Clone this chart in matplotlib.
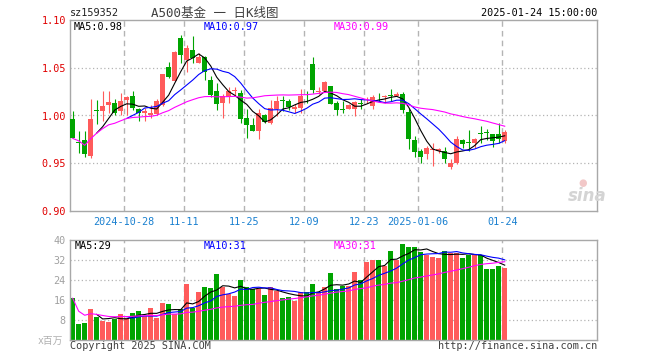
import numpy as np
import pandas as pd
import matplotlib
matplotlib.use("Agg")
import matplotlib.pyplot as plt

plt.rcParams['font.family'] = ['DejaVu Sans Mono', 'Noto Sans CJK SC']

# trading days, 2024-10-15 .. 2025-01-24 (new year holiday removed)
dates = [d for d in pd.bdate_range('2024-10-15', '2025-01-24') if d != pd.Timestamp('2025-01-01')]

opens = [0.996, 0.972, 0.9741, 0.9577, 1.0059, 1.0045, 1.0112, 1.0129, 1.0045, 1.0161,
         1.0203, 1.0066, 1.0031, 1.0003, 1.0014, 1.0115, 1.0503, 1.0357, 1.0808, 1.0577,
         1.0685, 1.0549, 1.0615, 1.0374, 1.0255, 1.0129, 1.0189, 1.0255, 1.0234, 0.9976,
         0.9899, 0.9839, 1.0003, 0.992, 1.0066, 1.0153, 1.0147, 1.0066, 1.0077, 1.0203,
         1.0538, 1.0245, 1.0252, 1.0311, 1.0129, 1.0059, 1.0066, 1.0073, 1.0122, 1.0168,
         1.0101, 1.0192, 1.0192, 1.0210, 1.0201, 1.0226, 1.0035, 0.974, 0.9628, 0.9594,
         0.9642, 0.9628, 0.9628, 0.9465, 0.9507, 0.974, 0.9719, 0.9708, 0.9813, 0.9823,
         0.9802, 0.9802, 0.9733]
closes = [0.976, 0.971, 0.9594, 0.9962, 1.0052, 1.0098, 1.0143, 1.0031, 1.015, 1.0189,
          1.008, 1.0031, 1.0049, 1.0031, 1.015, 1.0434, 1.0406, 1.0668, 1.0636, 1.0706,
          1.0598, 1.0615, 1.0458, 1.0217, 1.0119, 1.0206, 1.0255, 1.0262, 0.9962, 0.9899,
          0.9839, 1.0024, 0.9934, 1.0077, 1.015, 1.015, 1.0094, 1.0084, 1.0206, 1.0199,
          1.0266, 1.0248, 1.0346, 1.0119, 1.0056, 1.0056, 1.0112, 1.0143, 1.0119, 1.0171,
          1.0189, 1.0189, 1.0196, 1.0206, 1.0222, 1.0056, 0.975, 0.9618, 0.9569, 0.9663,
          0.9646, 0.9646, 0.9542, 0.95, 0.9757, 0.9698, 0.9715, 0.9757, 0.9809, 0.9819,
          0.9733, 0.975, 0.9826]
highs = [1.0045, 0.9836, 0.9836, 1.0171, 1.0161, 1.0255, 1.0255, 1.0171, 1.0234, 1.0203,
         1.0255, 1.008, 1.008, 1.0112, 1.0171, 1.0434, 1.0563, 1.0678, 1.0843, 1.0738,
         1.0829, 1.065, 1.0626, 1.0416, 1.0339, 1.0224, 1.0301, 1.0301, 1.0266, 1.0066,
         0.9969, 1.0066, 1.0014, 1.0161, 1.0206, 1.0206, 1.0171, 1.0119, 1.0276, 1.0259,
         1.0612, 1.0294, 1.0364, 1.0311, 1.0147, 1.0154, 1.0119, 1.0154, 1.0171, 1.0189,
         1.0217, 1.0234, 1.0217, 1.0276, 1.0247, 1.025, 1.008, 0.9785, 0.9646, 0.9681,
         0.9715, 0.9663, 0.967, 0.9542, 0.9785, 0.975, 0.9847, 0.9767, 0.9889, 0.9861,
         0.9802, 0.9917, 0.9847]
lows = [0.976, 0.9605, 0.957, 0.9556, 0.9909, 0.9944, 1.0031, 1.0003, 1.0003, 1.0003,
        1.0056, 0.9944, 0.9944, 0.9979, 1.0003, 1.0101, 1.0396, 1.0357, 1.0545, 1.0458,
        1.0549, 1.0549, 1.0374, 1.0189, 1.0059, 0.9979, 1.0129, 1.0206, 0.992, 0.9769,
        0.9839, 0.9752, 0.992, 0.9909, 0.9997, 1.0049, 1.0056, 1.0031, 1.0031, 1.0126,
        1.0234, 1.0224, 1.0252, 1.0119, 1.0007, 1.0024, 1.0066, 0.9997, 1.0066, 1.0129,
        1.0073, 1.0147, 1.0129, 1.0154, 1.0201, 1.0028, 0.9646, 0.9569, 0.9507, 0.9542,
        0.9472, 0.9611, 0.9507, 0.9438, 0.949, 0.9663, 0.9628, 0.9663, 0.9715, 0.974,
        0.967, 0.9715, 0.9715]
volumes = [16.7, 6.3, 6.7, 12.4, 9.1, 7.6, 7.1, 8.5, 10.3, 8.8,
           10.7, 11.5, 9.7, 12.7, 8.7, 14.7, 14.3, 10.5, 12.4, 22.3,
           12.7, 19.1, 21.1, 20.7, 26.3, 21.3, 18.4, 17.5, 24.0, 21.1,
           20.4, 20.4, 18.0, 21.3, 19.7, 16.7, 17.1, 15.5, 19.4, 19.4,
           22.6, 19.4, 21.4, 26.7, 20.5, 21.7, 21.7, 27.3, 23.9, 31.3,
           32.1, 32.1, 29.7, 35.7, 32.1, 38.5, 37.1, 37.1, 35.3, 34.1,
           33.3, 32.9, 35.7, 34.9, 34.9, 32.9, 34.1, 34.1, 34.1, 28.5,
           28.5, 29.7, 28.9]

tick_dates = ['2024-10-28', '2024-11-11', '2024-11-25', '2024-12-09',
              '2024-12-23', '2025-01-06', '2025-01-24']
tick_labels = ['2024-10-28', '11-11', '11-25', '12-09', '12-23', '2025-01-06', '01-24']

price_ticks = [0.90, 0.95, 1.00, 1.05, 1.10]
vol_ticks = [8, 16, 24, 32, 40]

RED = '#ff5b5b'
GREEN = '#00a400'
GRID = '#b4b4b4'
FRAME = '#a8a8a8'


def px(x, y):
    return x / 660, 1 - y / 360


df = pd.DataFrame({'open': opens, 'high': highs, 'low': lows, 'close': closes, 'vol': volumes})
x = np.arange(len(df))
up = df['close'] >= df['open']
colors = np.where(up, RED, GREEN)

fig = plt.figure(figsize=(6.6, 3.6), dpi=100)
ax = fig.add_axes([70 / 660, 1 - 211 / 360, 527 / 660, 191 / 360])
axv = fig.add_axes([70 / 660, 1 - 340 / 360, 527 / 660, 100 / 360])

xlim = (-0.45, 87.38)
tick_pos = [dates.index(pd.Timestamp(d)) - 0.42 for d in tick_dates]

for a in (ax, axv):
    a.set_xlim(*xlim)
    for s in a.spines.values():
        s.set_color(FRAME)
        s.set_linewidth(1.0)
    for p in tick_pos:
        a.axvline(p, color=GRID, lw=1.0, ls=(0, (4, 3)), zorder=0)

# candles
ax.vlines(x, df['low'], df['high'], colors=colors, lw=0.8, zorder=2)
body = np.maximum((df['close'] - df['open']).abs(), 0.0008)
ax.bar(x, body, bottom=np.minimum(df['open'], df['close']), width=0.78,
       color=colors, linewidth=0, zorder=3)

ax.plot(x, df['close'].rolling(5).mean(), color='black', lw=0.8, zorder=4)
ax.plot(x, df['close'].rolling(10).mean(), color='#0000ff', lw=0.8, zorder=4)
ax.plot(x, df['close'].rolling(30, min_periods=1).mean(), color='#ff00ff', lw=0.8, zorder=4)

ax.set_ylim(0.90, 1.10)
ax.set_yticks(price_ticks)
ax.set_yticklabels([f'{v:.2f}' for v in price_ticks])
for v in price_ticks[1:-1]:
    ax.axhline(v, color=GRID, lw=0.9, ls=(0, (1, 2)), zorder=0)
ax.tick_params(axis='y', colors='#e00000', length=0, pad=3, labelsize=7.3)
ax.set_xticks(tick_pos)
ax.set_xticklabels(tick_labels)
ax.tick_params(axis='x', colors='#1a80d0', length=0, pad=4, labelsize=7.3)
ax.set_facecolor('white')

# volume
axv.bar(x, df['vol'], width=0.78, color=colors, linewidth=0, zorder=2)
axv.plot(x, df['vol'].rolling(5).mean(), color='black', lw=0.8, zorder=4)
axv.plot(x, df['vol'].rolling(10).mean(), color='#0000ff', lw=0.8, zorder=4)
axv.plot(x, df['vol'].rolling(30, min_periods=1).mean(), color='#ff00ff', lw=0.8, zorder=4)
axv.set_ylim(0, 40)
axv.set_yticks(vol_ticks)
axv.set_yticklabels([str(v) for v in vol_ticks])
for v in vol_ticks[:-1]:
    axv.axhline(v, color=GRID, lw=0.9, ls=(0, (1, 2)), zorder=0)
axv.tick_params(axis='y', colors='#a0a0a0', length=0, pad=3, labelsize=7.3)
axv.set_xticks([])

# header texts
fs = 7.3
fig.text(*px(70, 13), 'sz159352', fontsize=fs, color='#202020', va='center')
fig.text(*px(151, 13), 'A500基金 一 日K线图', fontsize=9, color='#404040', va='center')
fig.text(*px(597, 13), '2025-01-24 15:00:00', fontsize=fs, color='black', va='center', ha='right')

fig.text(*px(74, 27), 'MA5:0.98', fontsize=fs, color='black', va='center')
fig.text(*px(204, 27), 'MA10:0.97', fontsize=fs, color='#0000ff', va='center')
fig.text(*px(334, 27), 'MA30:0.99', fontsize=fs, color='#ff00ff', va='center')

fig.text(*px(75, 246), 'MA5:29', fontsize=fs, color='black', va='center')
fig.text(*px(204, 246), 'MA10:31', fontsize=fs, color='#0000ff', va='center')
fig.text(*px(334, 246), 'MA30:31', fontsize=fs, color='#ff00ff', va='center')

fig.text(*px(38, 341), 'x百万', fontsize=7, color='#b0b0b0', va='center')
fig.text(*px(70, 346), 'Copyright 2025 SINA.COM', fontsize=fs, color='#404040', va='center')
fig.text(*px(597, 346), 'http://finance.sina.com.cn', fontsize=fs, color='#404040',
         va='center', ha='right')

# sina watermark
fig.text(*px(568, 196), 'sina', fontsize=12, color='#d4d4d4', va='center',
         fontstyle='italic', fontweight='bold', family='DejaVu Sans')
fig.text(*px(583, 183), '●', fontsize=7, color='#f2c8c8', va='center', ha='center',
         family='DejaVu Sans')

fig.savefig('out.png', dpi=100)
